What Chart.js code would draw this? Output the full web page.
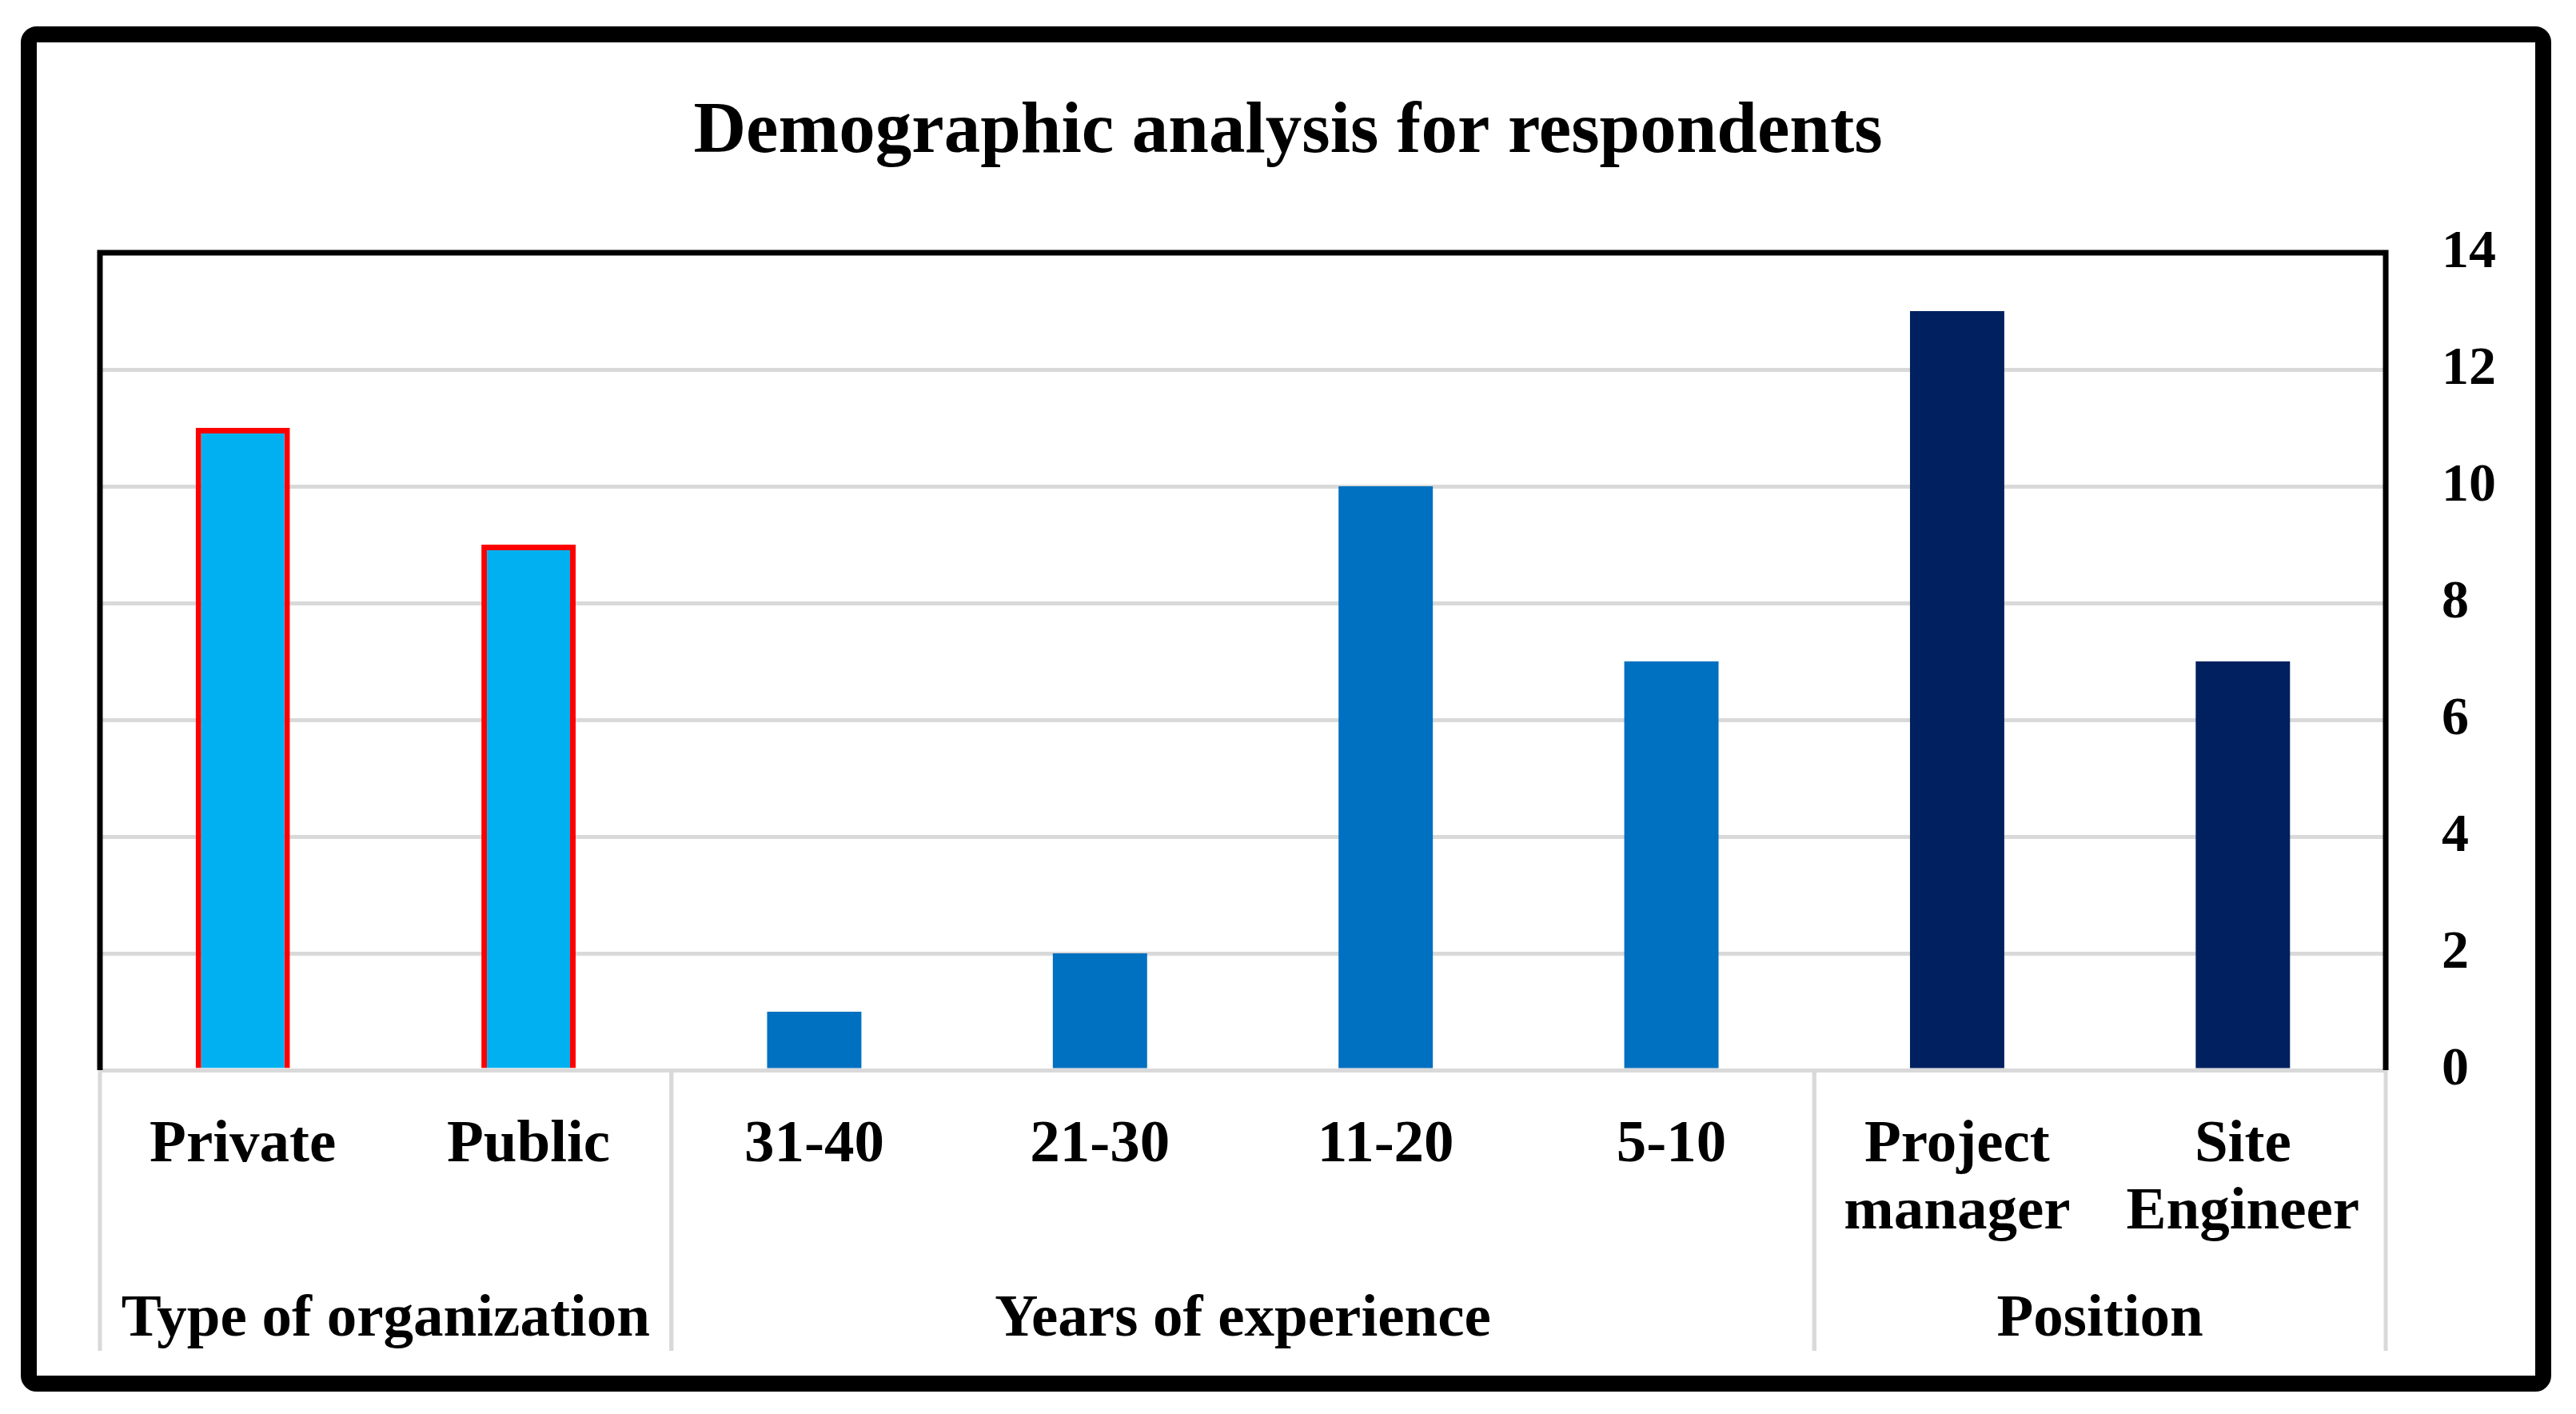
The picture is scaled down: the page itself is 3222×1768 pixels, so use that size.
<!DOCTYPE html>
<html>
<head>
<meta charset="utf-8">
<script src="https://cdn.jsdelivr.net/npm/chart.js@4.4.1/dist/chart.umd.min.js"></script>
<style>
  html, body { margin: 0; padding: 0; background: #fff; }
  canvas { display: block; }
</style>
</head>
<body>
<canvas id="chart" width="3222" height="1768"></canvas>
<script>
// data
const categories = ['Private', 'Public', '31-40', '21-30', '11-20', '5-10', ['Project', 'manager'], ['Site', 'Engineer']];
const counts = [11, 9, 1, 2, 10, 7, 13, 7];
const groupNames = ['Type of organization', 'Years of experience', 'Position'];
const groupSizes = [2, 4, 2];
const yMin = 0, yMax = 14, yStep = 2;
const chartTitle = 'Demographic analysis for respondents';

const groupColors = ['#00B0F0', '#0070C0', '#002060'];
const groupBorders = ['#FF0000', 'rgba(0,0,0,0)', 'rgba(0,0,0,0)'];
const FONT = '"Liberation Serif", "Times New Roman", serif';

// one colour per bar, taken from its group
const barColors = [], barBorders = [], barBorderWidths = [];
groupSizes.forEach((n, g) => {
  for (let i = 0; i < n; i++) {
    barColors.push(groupColors[g]);
    barBorders.push(groupBorders[g]);
    barBorderWidths.push(g === 0 ? 7 : 0);
  }
});

const framePlugin = {
  id: 'frame',
  beforeDraw(chart) {
    const { ctx } = chart;
    ctx.save();
    ctx.fillStyle = '#fff';
    ctx.fillRect(0, 0, chart.width, chart.height);
    ctx.restore();
  },
  afterDraw(chart) {
    const { ctx, chartArea: a, scales: { x } } = chart;
    ctx.save();

    // title, centred on the whole picture
    ctx.fillStyle = '#000';
    ctx.font = 'bold 91px ' + FONT;
    ctx.textAlign = 'center';
    ctx.textBaseline = 'alphabetic';
    ctx.fillText(chartTitle, chart.width / 2, 190);

    // plot box: black on top, left and right
    ctx.strokeStyle = '#000';
    ctx.lineWidth = 7;
    ctx.beginPath();
    ctx.moveTo(a.left, a.bottom);
    ctx.lineTo(a.left, a.top);
    ctx.lineTo(a.right, a.top);
    ctx.lineTo(a.right, a.bottom);
    ctx.stroke();

    // group separators and group labels
    const sepBottom = 1689;
    ctx.strokeStyle = '#D9D9D9';
    ctx.lineWidth = 5;
    ctx.font = 'bold 75px ' + FONT;
    let start = 0;
    groupNames.forEach((name, i) => {
      const l = x.getPixelForValue(start - 0.5);
      const r = x.getPixelForValue(start + groupSizes[i] - 0.5);
      ctx.beginPath();
      ctx.moveTo(l, a.bottom);
      ctx.lineTo(l, sepBottom);
      ctx.moveTo(r, a.bottom);
      ctx.lineTo(r, sepBottom);
      ctx.stroke();
      ctx.fillText(name, (l + r) / 2, 1670);
      start += groupSizes[i];
    });

    // outer frame
    ctx.strokeStyle = '#000';
    ctx.lineWidth = 20;
    ctx.beginPath();
    ctx.roundRect(36, 43, 3145, 1687, 10);
    ctx.stroke();
    ctx.restore();
  }
};

new Chart(document.getElementById('chart').getContext('2d'), {
  type: 'bar',
  data: {
    labels: categories,
    datasets: [{
      data: counts,
      backgroundColor: barColors,
      borderColor: barBorders,
      borderWidth: barBorderWidths,
      categoryPercentage: 1,
      barPercentage: 0.33
    }]
  },
  options: {
    responsive: false,
    animation: false,
    devicePixelRatio: 1,
    layout: { padding: { left: 125, right: 0, top: 316, bottom: 0 } },
    plugins: {
      legend: { display: false },
      tooltip: { enabled: false },
      title: { display: false }
    },
    scales: {
      x: {
        grid: { display: false, drawTicks: false },
        border: { display: false },
        ticks: {
          color: '#000',
          font: { family: FONT, size: 75, weight: 'bold', lineHeight: 1.12 },
          padding: 53,
          maxRotation: 0,
          autoSkip: false
        },
        afterFit(scale) { scale.height = 430; }
      },
      y: {
        position: 'right',
        min: yMin,
        max: yMax,
        grid: { color: '#D9D9D9', lineWidth: 5, drawTicks: false },
        border: { display: false },
        ticks: {
          stepSize: yStep,
          color: '#000',
          font: { family: FONT, size: 68, weight: 'bold' },
          padding: 70
        },
        afterFit(scale) { scale.width = 238; }
      }
    }
  },
  plugins: [framePlugin]
});
</script>
</body>
</html>
